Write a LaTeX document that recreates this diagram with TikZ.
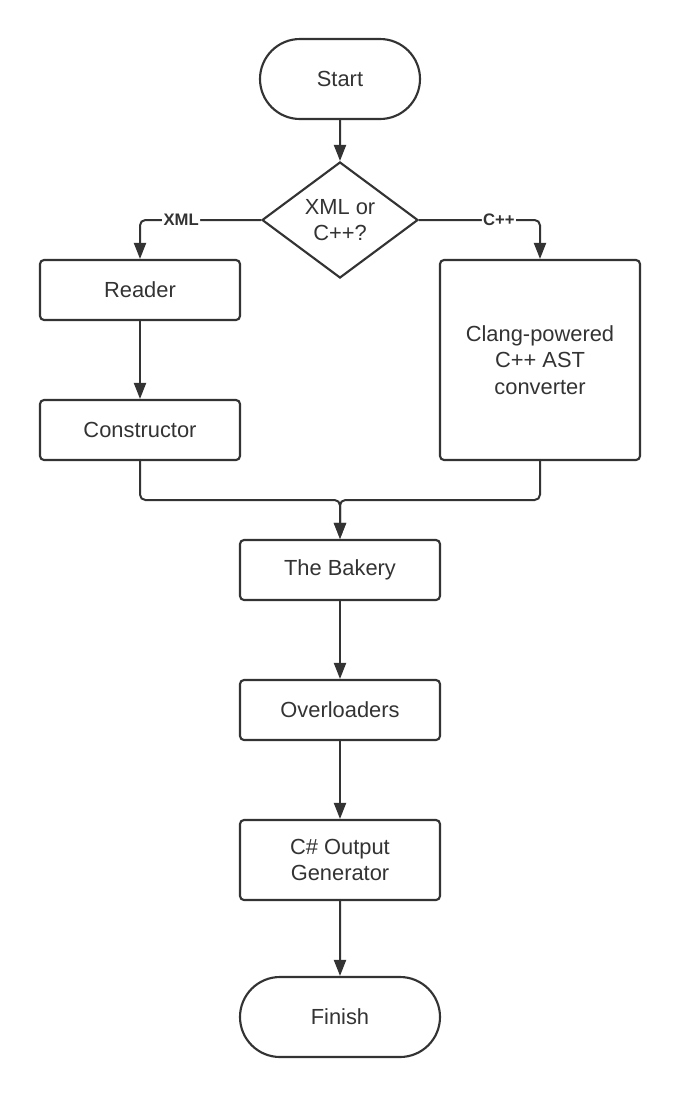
\documentclass[tikz,border=0pt]{standalone}
\usepackage{fontspec}
\setmainfont{Liberation Sans}
\usetikzlibrary{arrows.meta,positioning,shapes}
\definecolor{ink}{HTML}{333333}

\begin{document}
\begin{tikzpicture}[x = 0.75pt, y = -0.75pt,
  every node/.style = {text = ink, font = \fontsize{16.4}{20}\selectfont},
  box/.style = {draw = ink, line width = 1.6pt, rounded corners = 3pt, minimum width = 150pt, minimum height = 45pt, align = center, inner sep = 0pt},
  term/.style = {draw = ink, line width = 1.6pt, rounded rectangle, minimum height = 60pt, inner sep = 0pt},
  choice/.style = {draw = ink, line width = 1.6pt, diamond, minimum width = 117pt, minimum height = 87pt, inner sep = 0pt, align = center},
  flow/.style = {draw = ink, line width = 1.5pt, rounded corners = 4pt, -{Triangle[length = 12pt, width = 9pt]}},
  tag/.style = {fill = white, inner sep = 1pt, font = \fontsize{12.5}{13}\bfseries\selectfont}]
\useasboundingbox (0,0) rectangle (680,1097);
\node[term, minimum width = 120pt] (start) at (340,79) {Start};
\node[choice] (which) at (340,220) {XML or\\C++?};
\node[box] (reader) at (140,290) {Reader};
\node[box] (constr) at (140,430) {Constructor};
\node[box, minimum height = 150pt] (clang) at (540,360) {Clang-powered\\C++ AST\\converter};
\node[box] (bakery) at (340,570) {The Bakery};
\node[box] (overl) at (340,710) {Overloaders};
\node[box, minimum height = 60pt] (csout) at (340,860) {C\# Output\\Generator};
\node[term, minimum width = 150pt] (finish) at (340,1017) {Finish};
\coordinate (merge) at (340,500);

\draw[flow] (start) -- (which);
\draw[flow] (which) -| node[tag, pos = 0.33] {XML} (reader);
\draw[flow] (which) -| node[tag, pos = 0.33] {C++} (clang);
\draw[flow] (reader) -- (constr);
\draw[flow] (constr) |- (merge) -- (bakery);
\draw[flow] (clang) |- (merge) -- (bakery);
\draw[flow] (bakery) -- (overl);
\draw[flow] (overl) -- (csout);
\draw[flow] (csout) -- (finish);
\end{tikzpicture}
\end{document}
